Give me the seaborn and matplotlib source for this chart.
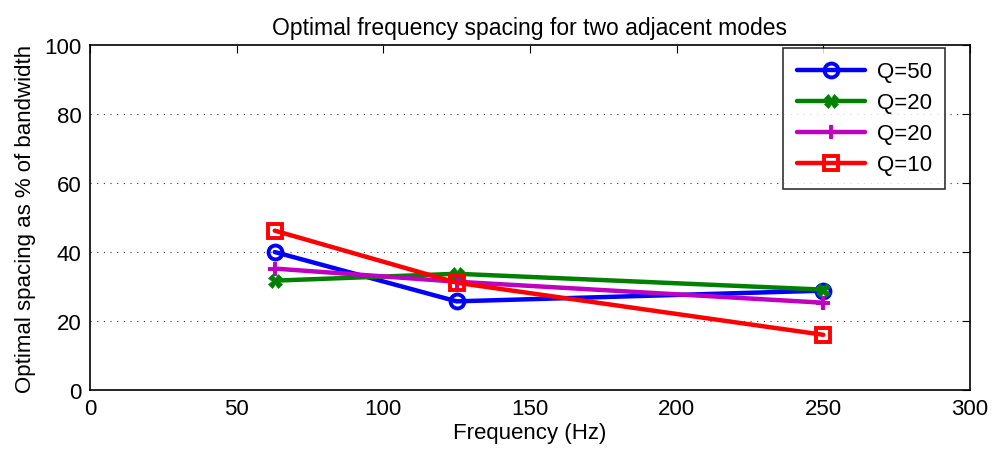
import matplotlib
matplotlib.use("Agg")
import matplotlib.pyplot as plt
import seaborn as sns
import pandas as pd

sns.set_style("white")
plt.rcParams['font.family'] = ['Liberation Sans', 'DejaVu Sans']
plt.rcParams.update({"text.color": "black", "axes.labelcolor": "black",
                     "xtick.color": "black", "ytick.color": "black"})

freqs = [63, 125, 250]
q50 = [40.0, 25.7, 28.8]
q20a = [31.7, 33.7, 29.1]
q20b = [35.2, 31.4, 25.3]
q10 = [46.2, 31.1, 16.0]

series = [
    ("Q=50", q50, "#0000ff", "o", "none"),
    ("Q=20", q20a, "#008000", "X", None),
    ("Q=20", q20b, "#bf00bf", "+", None),
    ("Q=10", q10, "#ff0000", "s", "none"),
]

fig = plt.figure(figsize=(9.93, 4.52), dpi=100)
ax = fig.add_axes([0.0906, 0.135, 0.8862, 0.763])

for label, vals, color, marker, mfc in series:
    df = pd.DataFrame({"f": freqs, "v": vals})
    kw = dict(marker=marker, markersize=10,
              markeredgewidth=2.8 if marker != "X" else 0.5,
              markeredgecolor=color,
              markerfacecolor=mfc if mfc is not None else color)
    sns.lineplot(data=df, x="f", y="v", ax=ax, color=color, linewidth=3.2,
                 label=label, **kw)

ax.set_xlim(0, 300)
ax.set_ylim(0, 100)
ax.set_xticks(range(0, 301, 50))
ax.set_yticks(range(0, 101, 20))
ax.tick_params(direction="in", length=6, labelsize=16, top=True, right=True,
               color="black", labelcolor="black", width=0.8, pad=6)
for s in ax.spines.values():
    s.set_visible(True)
    s.set_color("black")
    s.set_linewidth(1.2)
for yv in [20, 40, 60, 80]:
    ax.axhline(yv, color="#333333", linestyle=(0, (1, 5)), linewidth=0.8, zorder=0)

ax.set_xlabel("Frequency (Hz)", fontsize=16, labelpad=2, color="black")
ax.set_ylabel("Optimal spacing as % of bandwidth", fontsize=16, labelpad=6, color="black")
ax.set_title("Optimal frequency spacing for two adjacent modes", fontsize=16.5, pad=8,
             color="black")

leg = ax.legend(loc="upper right", bbox_to_anchor=(0.9716, 0.9913), borderaxespad=0,
                fontsize=16, frameon=True, fancybox=False, edgecolor="black",
                handlelength=3.1, handletextpad=0.5, labelspacing=0.45,
                borderpad=0.6)
leg.get_frame().set_linewidth(1.2)
for t in leg.get_texts():
    t.set_color("black")

fig.savefig("out.png", dpi=100)
